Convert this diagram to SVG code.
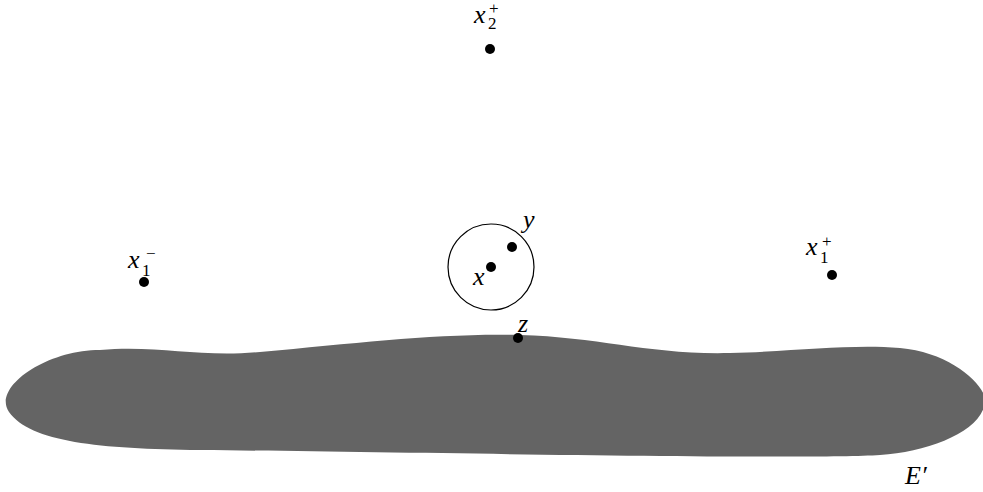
<svg xmlns="http://www.w3.org/2000/svg" width="983" height="492" viewBox="0 0 983 492">
<style>
.t{font-family:"Liberation Serif","DejaVu Serif",serif;font-style:italic;font-size:26px;fill:#000}
.s{font-style:normal;font-size:17px}
.d{fill:#000}
</style>
<rect width="983" height="492" fill="#fff"/>
<g id="blob">
<path d="M 100 350 C 160 345, 200 358, 260 352 C 360 343, 440 333, 520 335 C 600 337, 650 355, 730 353 C 800 351, 850 344, 900 348 C 950 352, 985 385, 985 400 C 985 430, 930 452, 880 455 C 800 460, 400 452, 200 450 C 100 449, 30 442, 9 412 C -8 388, 45 350, 100 350 Z" fill="#646464"/>
</g>
<g id="ball">
<circle cx="491" cy="267" r="43" fill="none" stroke="#000" stroke-width="1.2"/>
</g>
<g id="x2p"><circle class="d" cx="490" cy="49" r="5"/><text class="t" x="474" y="23">x<tspan class="s" x="488" y="29">2</tspan><tspan class="s" x="489" y="14">+</tspan></text></g>
<g id="x"><circle class="d" cx="491" cy="267" r="5"/><text class="t" x="473" y="285">x</text></g>
<g id="y"><circle class="d" cx="512" cy="247" r="5"/><text class="t" x="523" y="228">y</text></g>
<g id="z"><circle class="d" cx="518" cy="338" r="5"/><text class="t" x="518" y="332">z</text></g>
<g id="x1m"><circle class="d" cx="144" cy="282" r="5"/><text class="t" x="128" y="268">x<tspan class="s" x="142" y="276">1</tspan><tspan class="s" x="146" y="259">−</tspan></text></g>
<g id="x1p"><circle class="d" cx="832" cy="275" r="5"/><text class="t" x="806" y="255">x<tspan class="s" x="820" y="263">1</tspan><tspan class="s" x="822" y="247">+</tspan></text></g>
<g id="Eprime"><text class="t" x="905" y="484">E′</text></g>
<g id="connectors"></g>
</svg>
